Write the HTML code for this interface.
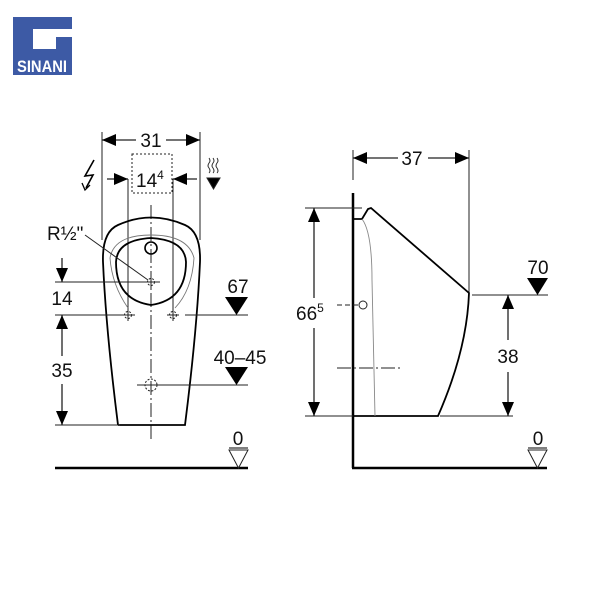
<!DOCTYPE html>
<html><head><style>
html,body{margin:0;padding:0;background:#fff;width:600px;height:600px;overflow:hidden}
svg{display:block}
text{font-family:"Liberation Sans",Arial,sans-serif;fill:#111}
</style></head><body>
<svg width="600" height="600" viewBox="0 0 600 600" xmlns="http://www.w3.org/2000/svg">
<defs>
<marker id="a" viewBox="0 0 10 10" refX="10" refY="5" markerWidth="14" markerHeight="12" preserveAspectRatio="none" markerUnits="userSpaceOnUse" orient="auto-start-reverse"><path d="M0,0L10,5L0,10z" fill="#000"/></marker>
</defs>
<!-- logo -->
<rect x="13" y="17" width="59" height="58" fill="#3d5aa5"/>
<rect x="33" y="29" width="39" height="20" fill="#fff"/>
<rect x="56" y="37" width="16" height="15" fill="#3d5aa5"/>
<text x="42" y="72" font-size="17" font-weight="bold" text-anchor="middle" style="fill:#fff" textLength="50" lengthAdjust="spacingAndGlyphs">SINANI</text>

<g stroke="#222" stroke-width="1" fill="none">
<!-- LEFT VIEW -->
<line x1="102" y1="132" x2="102" y2="240"/><line x1="200" y1="132" x2="200" y2="240"/>
<line x1="136" y1="140" x2="102" y2="140" marker-end="url(#a)" stroke-width="1.3"/>
<line x1="166" y1="140" x2="200" y2="140" marker-end="url(#a)" stroke-width="1.3"/>
<rect x="132" y="154" width="40" height="39" stroke-dasharray="2,2"/>
<line x1="107" y1="179" x2="128" y2="179" marker-end="url(#a)" stroke-width="1.3"/>
<line x1="197" y1="179" x2="173" y2="179" marker-end="url(#a)" stroke-width="1.3"/>
<line x1="128" y1="179" x2="128" y2="310"/><line x1="173" y1="179" x2="173" y2="310"/>
<line x1="151" y1="205" x2="151" y2="440" stroke-dasharray="14,3,2,3"/>
<!-- bowl outer -->
<path d="M118,425 L185,425 Q197,330 200,262 Q201,232 185,225 Q151,210 118,225 Q102,232 103,262 Q106,330 118,425" stroke="#000" stroke-width="1.8"/>
<path d="M110,258 Q114,235 151,235 Q188,235 194,258 Q192,290 175,308" stroke="#777" stroke-width="0.9"/>
<path d="M110,258 Q112,285 128,308" stroke="#777" stroke-width="0.9"/>
<path d="M116,262 Q117,240 151,238 Q185,240 186,262 Q186,300 151,305 Q116,300 116,262Z" stroke="#000" stroke-width="1.8"/>
<circle cx="151" cy="248" r="6" stroke="#000" stroke-width="1.6"/>
<line x1="85" y1="235" x2="148" y2="280"/>
<line x1="55" y1="282" x2="160" y2="282"/>
<circle cx="151" cy="282" r="3.5" stroke-dasharray="2,1.5"/>
<line x1="55" y1="315" x2="135" y2="315"/><line x1="185" y1="315" x2="248" y2="315"/>
<circle cx="128" cy="315" r="3.5" stroke-dasharray="2,1.5"/><circle cx="173" cy="315" r="3.5" stroke-dasharray="2,1.5"/>
<line x1="122" y1="315" x2="134" y2="315"/><line x1="128" y1="309" x2="128" y2="321"/>
<line x1="167" y1="315" x2="179" y2="315"/><line x1="173" y1="309" x2="173" y2="321"/>
<line x1="145" y1="282" x2="157" y2="282"/><line x1="151" y1="276" x2="151" y2="288"/>
<line x1="62" y1="258" x2="62" y2="282" marker-end="url(#a)" stroke-width="1.3"/>
<line x1="62" y1="340" x2="62" y2="315" marker-end="url(#a)" stroke-width="1.3"/>
<line x1="62" y1="340" x2="62" y2="356" stroke-width="1.3"/>
<line x1="62" y1="384" x2="62" y2="425" marker-end="url(#a)" stroke-width="1.3"/>
<line x1="55" y1="425" x2="120" y2="425"/>
<line x1="137" y1="385" x2="248" y2="385"/>
<circle cx="151" cy="385" r="6" stroke-dasharray="2,1.5"/>
<line x1="55" y1="468" x2="248" y2="468" stroke="#000" stroke-width="2.5"/>
<path d="M229,450 L248,450 L238.5,468Z"/>
<!-- lightning -->
<path d="M94,160 L85,176 L93,175 L86,188" stroke="#000" stroke-width="1.6"/>
<path d="M82,183 L85,190 L90,185" stroke="#000" stroke-width="1.3"/>
<!-- waves -->
<path d="M209,158 q2,3 0,5 q-2,3 0,5 q2,3 0,5 M213,158 q2,3 0,5 q-2,3 0,5 q2,3 0,5 M217,158 q2,3 0,5 q-2,3 0,5 q2,3 0,5" stroke-width="0.9"/>
<path d="M207,178 L220,178 L213.5,189Z" fill="#000"/>

<!-- RIGHT VIEW -->
<line x1="353" y1="150" x2="353" y2="180"/><line x1="469" y1="150" x2="469" y2="295"/>
<line x1="398" y1="158" x2="353" y2="158" marker-end="url(#a)" stroke-width="1.3"/>
<line x1="428" y1="158" x2="469" y2="158" marker-end="url(#a)" stroke-width="1.3"/>
<line x1="353" y1="193" x2="353" y2="468" stroke="#000" stroke-width="2.5"/>
<line x1="352" y1="468" x2="547" y2="468" stroke="#000" stroke-width="2.5"/>
<path d="M353,219 L362,219 L368,209 L371,208 L469,293 Q467,350 438,416 L353,416" stroke="#000" stroke-width="1.8"/>
<path d="M362,219 Q372,232 372,280 L375,416" stroke="#888" stroke-width="0.9"/>
<line x1="305" y1="208" x2="362" y2="208"/><line x1="305" y1="416" x2="353" y2="416"/>
<line x1="314" y1="224" x2="314" y2="208" marker-end="url(#a)" stroke-width="1.3"/>
<line x1="314" y1="224" x2="314" y2="298" stroke-width="1.3"/>
<line x1="314" y1="328" x2="314" y2="416" marker-end="url(#a)" stroke-width="1.3"/>
<line x1="337" y1="305" x2="358" y2="305" stroke-dasharray="5,3"/>
<circle cx="363" cy="305" r="4"/>
<line x1="337" y1="368" x2="400" y2="368" stroke-dasharray="14,3,2,3"/>
<line x1="472" y1="295" x2="548" y2="295"/>
<line x1="440" y1="416" x2="513" y2="416"/>
<line x1="508" y1="312" x2="508" y2="295" marker-end="url(#a)" stroke-width="1.3"/>
<line x1="508" y1="312" x2="508" y2="340" stroke-width="1.3"/>
<line x1="508" y1="372" x2="508" y2="416" marker-end="url(#a)" stroke-width="1.3"/>
<path d="M528,450 L547,450 L537.5,468Z"/>
</g>
<path d="M225,297 L248,297 L236.5,315Z" fill="#000"/>
<path d="M225,367 L248,367 L236.5,385Z" fill="#000"/>
<path d="M527,278 L548,278 L537.5,295Z" fill="#000"/>
<line x1="229" y1="448" x2="248" y2="448" stroke="#000"/>
<line x1="528" y1="448" x2="547" y2="448" stroke="#000"/>

<g font-size="19">
<text x="151" y="147" text-anchor="middle">31</text>
<text x="136" y="187">14<tspan font-size="12" dy="-8">4</tspan></text>
<text x="47" y="240">R½"</text>
<text x="62" y="305" text-anchor="middle">14</text>
<text x="62" y="377" text-anchor="middle">35</text>
<text x="238" y="293" text-anchor="middle">67</text>
<text x="240" y="364" text-anchor="middle">40–45</text>
<text x="238" y="445" text-anchor="middle">0</text>
<text x="412" y="165" text-anchor="middle">37</text>
<text x="296" y="320">66<tspan font-size="12" dy="-8">5</tspan></text>
<text x="538" y="274" text-anchor="middle">70</text>
<text x="508" y="363" text-anchor="middle">38</text>
<text x="538" y="445" text-anchor="middle">0</text>
</g>
</svg>
</body></html>
